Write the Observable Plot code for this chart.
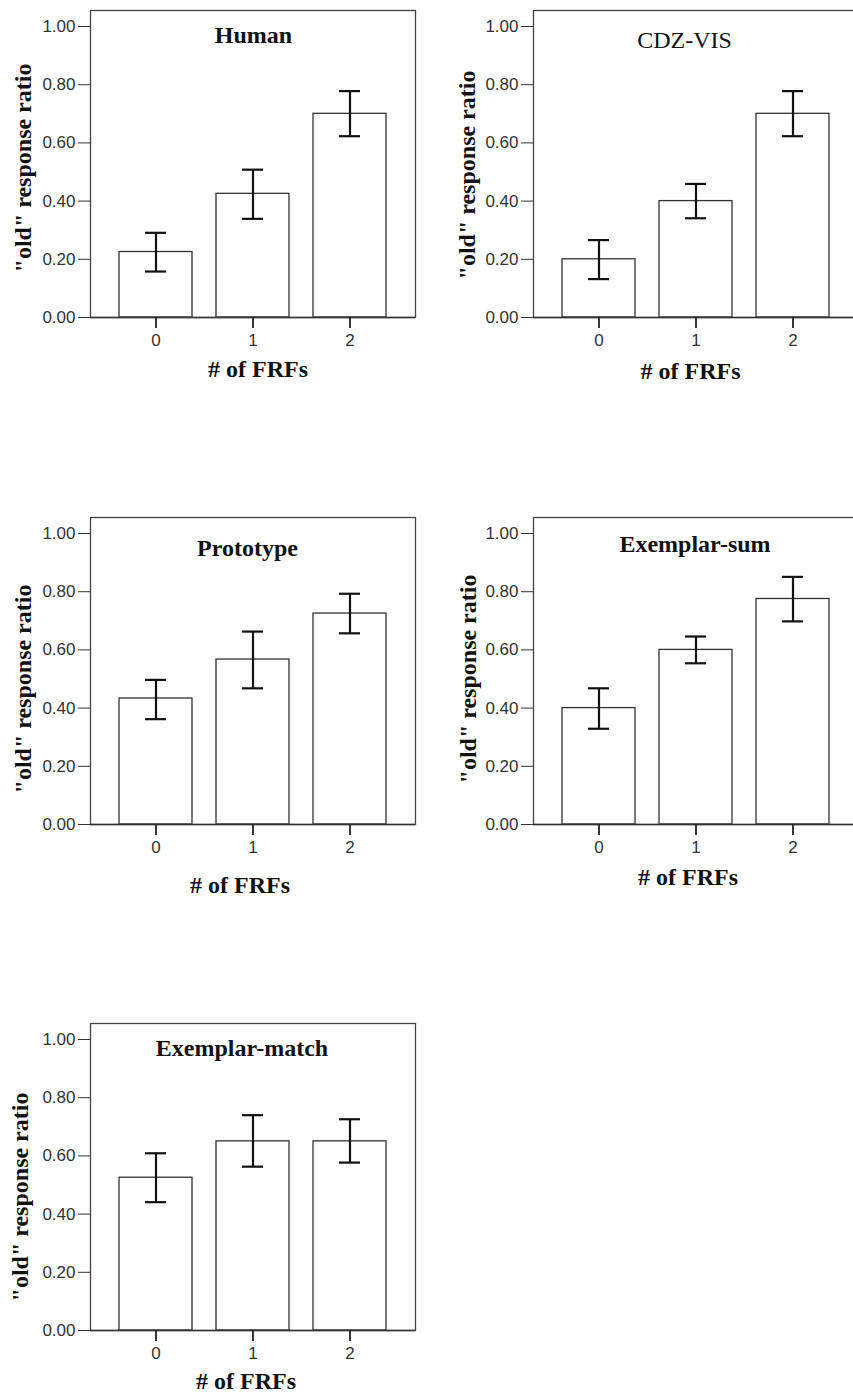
<!DOCTYPE html>
<html>
<head>
<meta charset="utf-8">
<script src="https://cdn.jsdelivr.net/npm/d3@7"></script>
<script src="https://cdn.jsdelivr.net/npm/@observablehq/plot@0.6"></script>
<style>
  body { margin: 0; background: #fff; }
  #wrap { position: relative; width: 853px; height: 1398px; overflow: hidden; background: #fff; }
  .panel { position: absolute; width: 425px; height: 397px; }
  .panel svg { max-width: none !important; width: 425px !important; height: 397px !important; }
</style>
</head>
<body>
<div id="wrap"></div>
<script>
// ---- data ----
const frfs = [0, 1, 2];
const yTicks = [0, 0.2, 0.4, 0.6, 0.8, 1.0];
const titles = ["Human", "CDZ-VIS", "Prototype", "Exemplar-sum", "Exemplar-match"];
const yTitle = "\"old\" response ratio";
const xTitle = "# of FRFs";

const humanMean = [0.225, 0.425, 0.700];
const humanLo   = [0.158, 0.339, 0.623];
const humanHi   = [0.291, 0.508, 0.778];

const cdzMean = [0.200, 0.400, 0.700];
const cdzLo   = [0.132, 0.341, 0.623];
const cdzHi   = [0.266, 0.459, 0.778];

const protoMean = [0.433, 0.567, 0.725];
const protoLo   = [0.362, 0.468, 0.657];
const protoHi   = [0.497, 0.663, 0.793];

const exSumMean = [0.400, 0.600, 0.775];
const exSumLo   = [0.329, 0.554, 0.698];
const exSumHi   = [0.468, 0.646, 0.851];

const exMatchMean = [0.525, 0.650, 0.650];
const exMatchLo   = [0.441, 0.563, 0.577];
const exMatchHi   = [0.609, 0.740, 0.726];

const series = [
  [humanMean, humanLo, humanHi],
  [cdzMean, cdzLo, cdzHi],
  [protoMean, protoLo, protoHi],
  [exSumMean, exSumLo, exSumHi],
  [exMatchMean, exMatchLo, exMatchHi]
];

// ---- layout (positions / styles only) ----
const layout = [
  {left: 0,   top: 0,    bold: true,  tdx: 0.5,   tdy: 32, xdx: 5,    xdy: 59, ydx: -67, ydy: 4},
  {left: 443, top: 0,    bold: false, tdx: -11.5, tdy: 37, xdx: -5.5, xdy: 61, ydx: -66, ydy: 11},
  {left: 0,   top: 507,  bold: true,  tdx: -5.5,  tdy: 38, xdx: -13,  xdy: 68, ydx: -67, ydy: 18},
  {left: 443, top: 507,  bold: true,  tdx: -1,    tdy: 34, xdx: -8,   xdy: 60, ydx: -65, ydy: 8},
  {left: 0,   top: 1013, bold: true,  tdx: -11,   tdy: 32, xdx: -7,   xdy: 58, ydx: -70, ydy: 20}
];

const serif = "'Liberation Serif', 'Times New Roman', Times, serif";
const sans = "'Liberation Sans', Arial, Helvetica, sans-serif";
const wrap = document.getElementById("wrap");

titles.forEach((title, i) => {
  const [mean, lo, hi] = series[i];
  const L = layout[i];
  const rows = frfs.map((k, j) => ({k, mean: mean[j], lo: lo[j], hi: hi[j]}));

  const chart = Plot.plot({
    width: 425,
    height: 397,
    marginLeft: 90,
    marginRight: 10,
    marginTop: 10,
    marginBottom: 80,
    style: {background: "white", fontFamily: sans, overflow: "visible", maxWidth: "none"},
    x: {type: "band", domain: frfs, paddingInner: 0.25, paddingOuter: 0.3},
    y: {domain: [0, 1.055]},
    marks: [
      Plot.barY(rows, {x: "k", y: "mean", fill: "white", stroke: "#333", strokeWidth: 1.3}),
      Plot.frame({stroke: "#444", strokeWidth: 1.3}),
      Plot.ruleY([0], {stroke: "#333", strokeWidth: 1.6}),
      Plot.ruleX(rows, {x: "k", y1: "lo", y2: "hi", stroke: "#111", strokeWidth: 2.2}),
      Plot.tickY(rows, {x: "k", y: "lo", stroke: "#111", strokeWidth: 2.2, insetLeft: 26, insetRight: 26}),
      Plot.tickY(rows, {x: "k", y: "hi", stroke: "#111", strokeWidth: 2.2, insetLeft: 26, insetRight: 26}),
      Plot.axisY({ticks: yTicks, tickFormat: d3.format(".2f"), tickSize: 12, tickPadding: 3,
                  fontSize: 17, fontFamily: sans, label: null, stroke: "#333", color: "#333"}),
      Plot.axisX({tickSize: 11, tickPadding: 5, fontSize: 17, fontFamily: sans, label: null,
                  stroke: "#222", strokeWidth: 1.8, color: "#333"}),
      Plot.text([title], {text: d => d, frameAnchor: "top", lineAnchor: "bottom",
                  dx: L.tdx, dy: L.tdy, fontSize: 24, fontFamily: serif,
                  fontWeight: L.bold ? "bold" : "normal", fill: "#111"}),
      Plot.text([xTitle], {text: d => d, frameAnchor: "bottom", lineAnchor: "bottom",
                  dx: L.xdx, dy: L.xdy, fontSize: 24, fontFamily: serif, fontWeight: "bold", fill: "#111"}),
      Plot.text([yTitle], {text: d => d, frameAnchor: "left", textAnchor: "middle", lineAnchor: "middle",
                  rotate: -90, dx: L.ydx, dy: L.ydy, fontSize: 24, fontFamily: serif, fontWeight: "bold", fill: "#111"})
    ]
  });

  const div = document.createElement("div");
  div.className = "panel";
  div.style.left = L.left + "px";
  div.style.top = L.top + "px";
  div.appendChild(chart);
  wrap.appendChild(div);
});
</script>
</body>
</html>
